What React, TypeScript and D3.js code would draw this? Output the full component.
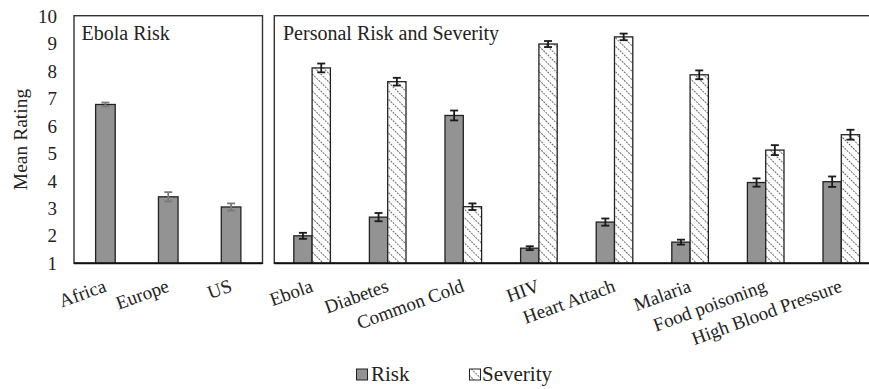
import React from 'react';
import * as d3 from 'd3';

// Ebola risk panel
const ebolaCats = ['Africa', 'Europe', 'US'];
const ebolaRisk = [6.78, 3.42, 3.05];
const ebolaErr = [0.07, 0.17, 0.13];

// personal risk / severity panel
const diseases = ['Ebola', 'Diabetes', 'Common Cold', 'HIV', 'Heart Attach', 'Malaria', 'Food poisoning', 'High Blood Pressure'];
const riskVals = [2.0, 2.68, 6.38, 1.55, 2.5, 1.77, 3.94, 3.97];
const riskErr = [0.11, 0.15, 0.18, 0.07, 0.13, 0.09, 0.15, 0.19];
const sevVals = [8.11, 7.61, 3.06, 8.98, 9.24, 7.86, 5.12, 5.68];
const sevErr = [0.16, 0.14, 0.12, 0.11, 0.12, 0.16, 0.18, 0.18];

const yTicks = [1, 2, 3, 4, 5, 6, 7, 8, 9, 10];

const font = '"Liberation Serif", "Times New Roman", serif';

export default function App() {
  const W = 869, H = 389;
  const top = 15.7, bottom = 263.3;

  const y = d3.scaleLinear().domain([1, 10]).range([bottom, 16]);
  const xL = d3.scaleBand().domain(ebolaCats).range([74, 262.5]);
  const xR = d3.scaleBand().domain(diseases).range([274.3, 274.3 + 8 * 75.6]);

  const errBar = (cx: number, v: number, e: number, color: string, key: string) => (
    <g key={key} stroke={color} strokeWidth={1.8}>
      <line x1={cx} x2={cx} y1={y(v + e)} y2={y(v - e)} />
      <line x1={cx - 4} x2={cx + 4} y1={y(v + e)} y2={y(v + e)} />
      <line x1={cx - 4} x2={cx + 4} y1={y(v - e)} y2={y(v - e)} />
    </g>
  );

  const bw = 18.3;

  return (
    <svg width={W} height={H} style={{ position: 'absolute', left: 0, top: 0, background: '#fff' }} fontFamily={font}>
      <defs>
        <pattern id="hatch" width={6} height={6} patternUnits="userSpaceOnUse" patternTransform="rotate(-45)">
          <rect width={6} height={6} fill="#fff" />
          <line x1={0} y1={0} x2={0} y2={6} stroke="#6a6a6a" strokeWidth={2} strokeDasharray="2 1" />
        </pattern>
      </defs>

      {/* y axis labels */}
      {yTicks.map(t => (
        <text key={t} x={57} y={y(t)} dy="0.35em" textAnchor="end" fontSize={19} fill="#222">{t}</text>
      ))}
      <text transform={`translate(27,${(top + bottom) / 2}) rotate(-90)`} textAnchor="middle" fontSize={19.5} fill="#222">Mean Rating</text>

      {/* left panel */}
      <rect x={74} y={top} width={262.5 - 74} height={bottom - top} fill="none" stroke="#333" strokeWidth={1.4} />
      <text x={81.5} y={39.5} fontSize={20} fill="#222">Ebola Risk</text>
      {ebolaCats.map((c, i) => {
        const cx = xL(c)! + xL.bandwidth() / 2;
        return (
          <g key={c}>
            <rect x={cx - 9.8} y={y(ebolaRisk[i])} width={19.6} height={bottom - y(ebolaRisk[i])} fill="#939393" stroke="#222" strokeWidth={1.3} />
            {errBar(cx, ebolaRisk[i], ebolaErr[i], '#7a7a7a', 'e' + c)}
          </g>
        );
      })}
      <line x1={74} x2={262.5} y1={bottom} y2={bottom} stroke="#111" strokeWidth={2} />

      {/* right panel */}
      <rect x={274.3} y={top} width={700} height={bottom - top} fill="none" stroke="#333" strokeWidth={1.4} />
      <text x={283} y={40} fontSize={20} fill="#222">Personal Risk and Severity</text>
      {diseases.map((c, i) => {
        const cx = xR(c)! + xR.bandwidth() / 2;
        return (
          <g key={c}>
            <rect x={cx - bw} y={y(riskVals[i])} width={bw} height={bottom - y(riskVals[i])} fill="#939393" stroke="#222" strokeWidth={1.3} />
            <rect x={cx} y={y(sevVals[i])} width={bw} height={bottom - y(sevVals[i])} fill="url(#hatch)" stroke="#222" strokeWidth={1.3} />
            {errBar(cx - bw / 2, riskVals[i], riskErr[i], '#1a1a1a', 'r' + c)}
            {errBar(cx + bw / 2, sevVals[i], sevErr[i], '#1a1a1a', 's' + c)}
          </g>
        );
      })}
      <line x1={274.3} x2={W} y1={bottom} y2={bottom} stroke="#111" strokeWidth={2} />

      {/* x labels */}
      {ebolaCats.map(c => {
        const cx = xL(c)! + xL.bandwidth() / 2;
        return <text key={c} transform={`translate(${cx + 2},291) rotate(-20)`} textAnchor="end" fontSize={19} fill="#222">{c}</text>;
      })}
      {diseases.map(c => {
        const cx = xR(c)! + xR.bandwidth() / 2;
        return <text key={c} transform={`translate(${cx + 2},291) rotate(-20)`} textAnchor="end" fontSize={19} fill="#222">{c}</text>;
      })}

      {/* legend */}
      <rect x={356.5} y={369} width={11} height={11} fill="#939393" stroke="#222" strokeWidth={1} />
      <text x={371} y={380.5} fontSize={21} fill="#222">Risk</text>
      <rect x={469.5} y={369} width={11} height={11} fill="url(#hatch)" stroke="#222" strokeWidth={1} />
      <text x={482} y={380.5} fontSize={21} fill="#222">Severity</text>
    </svg>
  );
}
